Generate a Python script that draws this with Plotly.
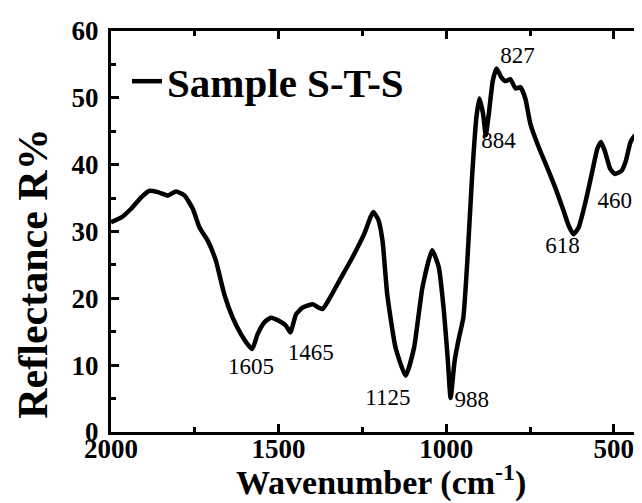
import plotly.graph_objects as go

wavenumber = [2000, 1969, 1940, 1910, 1885, 1860, 1830, 1806, 1781, 1756, 1736, 1711,
              1687, 1662, 1637, 1612, 1595, 1579, 1563, 1543, 1523, 1498, 1478, 1465,
              1448, 1429, 1414, 1397, 1384, 1369, 1349, 1319, 1280, 1245, 1218, 1203,
              1190, 1176, 1151, 1121, 1096, 1071, 1042, 1022, 1007, 995, 987, 975, 962,
              949, 937, 923, 910, 901, 890, 882, 873, 861, 850, 836, 824, 809, 793, 779,
              764, 749, 724, 699, 675, 650, 635, 620, 605, 586, 566, 549, 538, 526, 511,
              497, 477, 464, 450, 434, 421, 410]
reflectance = [31.4, 32.1, 33.4, 35.1, 36.1, 35.9, 35.4, 36.0, 35.4, 33.4, 30.6, 28.6,
               25.6, 20.6, 17.1, 14.6, 13.3, 12.4, 14.6, 16.4, 17.1, 16.6, 15.9, 14.9,
               17.6, 18.6, 18.9, 19.1, 18.7, 18.4, 19.9, 22.6, 26.1, 29.6, 32.9, 31.8,
               28.6, 20.6, 12.6, 8.4, 12.6, 21.6, 27.2, 24.6, 18.1, 10.6, 5.1, 10.6, 14.1,
               17.1, 25.6, 38.1, 47.1, 49.9, 47.6, 44.4, 47.6, 52.6, 54.4, 53.1, 52.5,
               52.8, 51.4, 51.6, 49.9, 46.1, 42.6, 39.6, 36.6, 33.1, 30.9, 29.6, 30.6,
               34.1, 38.6, 42.4, 43.4, 41.9, 39.4, 38.6, 39.1, 40.6, 43.4, 44.5, 43.0, 36.0]

peak_labels = ["1605", "1465", "1125", "988", "884", "827", "618", "460"]
label_x = [1582, 1404, 1174, 924, 844, 787, 653, 497]
label_y = [9.5, 11.7, 4.85, 4.6, 43.3, 56.1, 27.6, 34.35]

FONT = "Liberation Serif"

fig = go.Figure()
fig.add_trace(go.Scatter(
    x=wavenumber, y=reflectance, mode="lines", name="Sample S-T-S",
    line=dict(color="black", width=4.5, shape="spline", smoothing=0.5),
))
fig.add_trace(go.Scatter(
    x=label_x, y=label_y, mode="text", text=peak_labels, showlegend=False,
    textfont=dict(family=FONT, size=23, color="black"), hoverinfo="skip",
))

axis_common = dict(
    showgrid=False, zeroline=False, showline=True, linecolor="black", linewidth=3,
    mirror="allticks", ticks="inside", ticklen=8, tickwidth=3, tickcolor="black",
    tickfont=dict(family=FONT, size=27, color="black", weight="bold"),
)
fig.update_layout(
    width=642, height=503,
    margin=dict(l=103, r=3, t=23, b=79),
    paper_bgcolor="white", plot_bgcolor="white",
    showlegend=True,
    legend=dict(x=0.03, y=0.874, xanchor="left", yanchor="middle",
                bgcolor="rgba(0,0,0,0)",
                font=dict(family=FONT, size=41, color="black", weight="bold"),
                itemwidth=30, tracegroupgap=0),
    xaxis=dict(range=[2000, 410], tickvals=[2000, 1500, 1000, 500],
               ticklabelstandoff=-9,
               minor=dict(ticks="inside", ticklen=5, tickwidth=3, tickcolor="black",
                          dtick=250, tick0=0),
               **axis_common),
    yaxis=dict(range=[0, 60], tickvals=[0, 10, 20, 30, 40, 50, 60],
               ticklabelstandoff=4,
               minor=dict(ticks="inside", ticklen=5, tickwidth=3, tickcolor="black",
                          dtick=5, tick0=0),
               **axis_common),
    annotations=[
        dict(text="Wavenumber (cm<sup>-1</sup>)", xref="paper", yref="paper",
             x=0.507, y=-0.1215, xanchor="center", yanchor="middle", showarrow=False,
             font=dict(family=FONT, size=34, color="black", weight="bold")),
        dict(text="Reflectance R%", xref="paper", yref="paper", textangle=-90,
             x=-0.148, y=0.395, xanchor="center", yanchor="middle", showarrow=False,
             font=dict(family=FONT, size=42, color="black", weight="bold")),
    ],
)
fig.write_html("out.html")
